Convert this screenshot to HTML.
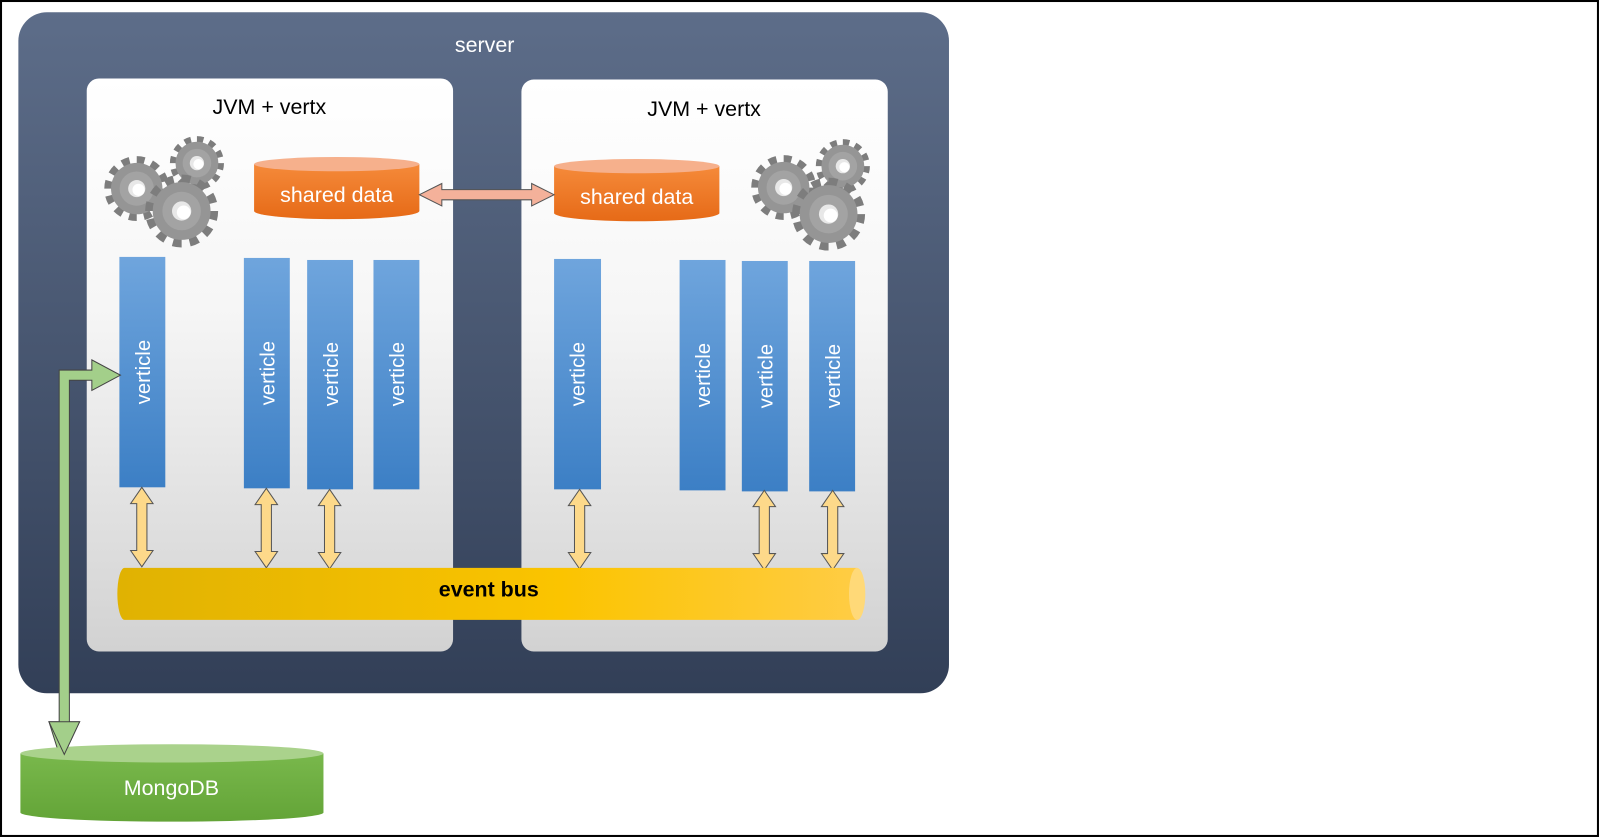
<!DOCTYPE html>
<html><head><meta charset="utf-8"><style>html,body{margin:0;padding:0;background:#fff}svg{display:block}</style></head>
<body>
<svg width="1600" height="838" viewBox="0 0 1568 822" preserveAspectRatio="none" xmlns="http://www.w3.org/2000/svg" font-family="'Liberation Sans', sans-serif">
<defs>
<linearGradient id="srv" x1="0" y1="0" x2="0" y2="1"><stop offset="0" stop-color="#5d6d89"/><stop offset="1" stop-color="#323f57"/></linearGradient>
<linearGradient id="jvm" x1="0" y1="0" x2="0" y2="1"><stop offset="0" stop-color="#ffffff"/><stop offset="0.4" stop-color="#f6f6f6"/><stop offset="1" stop-color="#d2d2d2"/></linearGradient>
<linearGradient id="vert" x1="0" y1="0" x2="0" y2="1"><stop offset="0" stop-color="#6fa5dd"/><stop offset="1" stop-color="#3c7fc5"/></linearGradient>
<linearGradient id="bus" x1="0" y1="0" x2="1" y2="0"><stop offset="0" stop-color="#e0b202"/><stop offset="0.6" stop-color="#fbc400"/><stop offset="1" stop-color="#ffcc44"/></linearGradient>
<linearGradient id="org" x1="0" y1="0" x2="0" y2="1"><stop offset="0" stop-color="#f58a3a"/><stop offset="1" stop-color="#e66a17"/></linearGradient>
<linearGradient id="grn" x1="0" y1="0" x2="0" y2="1"><stop offset="0" stop-color="#79b84c"/><stop offset="1" stop-color="#63a437"/></linearGradient>
<g id="gear"><circle r="22" fill="none" stroke="#7d7d7d" stroke-width="9" stroke-dasharray="6 5.5"/><circle r="21" fill="#959595"/><circle r="14" fill="#a3a3a3"/><circle r="7" fill="#e8e8e8"/><circle cx="1.5" cy="1" r="5" fill="#fff"/></g>
<g id="varr"><polygon points="0,0 11,16 5,16 5,62 11,62 0,78 -11,62 -5,62 -5,16 -11,16" fill="#fdd98a" stroke="#555" stroke-width="1"/></g>
</defs>
<rect x="1" y="1" width="1565" height="819" fill="#fff" stroke="#000" stroke-width="2"/>
<rect x="18" y="12" width="912" height="668" rx="28" fill="url(#srv)"/>
<text x="475" y="51" fill="#fff" font-size="21" text-anchor="middle">server</text>
<rect x="85" y="77" width="359" height="562" rx="12" fill="url(#jvm)"/>
<rect x="511" y="78" width="359" height="561" rx="12" fill="url(#jvm)"/>
<text x="264" y="112" font-size="21" text-anchor="middle">JVM + vertx</text>
<text x="690" y="114" font-size="21" text-anchor="middle">JVM + vertx</text>
<use href="#gear" transform="translate(134,185) scale(1.2)"/>
<use href="#gear" transform="translate(193,160) scale(1.0)"/>
<use href="#gear" transform="translate(178,207) scale(1.35)"/>
<use href="#gear" transform="translate(768,184) scale(1.2)"/>
<use href="#gear" transform="translate(826,163) scale(1.0)"/>
<use href="#gear" transform="translate(812,210) scale(1.35)"/>
<path d="M249,161 L249,207 A81,8 0 0 0 411,207 L411,161 Z" fill="url(#org)"/>
<ellipse cx="330" cy="161" rx="81" ry="7" fill="#f6b08c"/>
<text x="330" y="198" fill="#fff" font-size="21" text-anchor="middle">shared data</text>
<path d="M543,163 L543,209 A81,8 0 0 0 705,209 L705,163 Z" fill="url(#org)"/>
<ellipse cx="624" cy="163" rx="81" ry="7" fill="#f6b08c"/>
<text x="624" y="200" fill="#fff" font-size="21" text-anchor="middle">shared data</text>
<polygon points="411,191 433,180 433,186 521,186 521,180 543,191 521,202 521,196 433,196 433,202" fill="#f4b19a" stroke="#555" stroke-width="1"/>
<g fill="url(#vert)">
<rect x="117" y="252" width="45" height="226"/><rect x="239" y="253" width="45" height="226"/><rect x="301" y="255" width="45" height="225"/><rect x="366" y="255" width="45" height="225"/>
<rect x="543" y="254" width="46" height="226"/><rect x="666" y="255" width="45" height="226"/><rect x="727" y="256" width="45" height="226"/><rect x="793" y="256" width="45" height="226"/>
</g>
<g fill="#fff" font-size="20" text-anchor="middle">
<text transform="translate(147,365) rotate(-90)">verticle</text>
<text transform="translate(269,366) rotate(-90)">verticle</text>
<text transform="translate(331,367) rotate(-90)">verticle</text>
<text transform="translate(396,367) rotate(-90)">verticle</text>
<text transform="translate(573,367) rotate(-90)">verticle</text>
<text transform="translate(696,368) rotate(-90)">verticle</text>
<text transform="translate(757,369) rotate(-90)">verticle</text>
<text transform="translate(823,369) rotate(-90)">verticle</text>
</g>
<use href="#varr" transform="translate(139,478)"/>
<use href="#varr" transform="translate(261,479)"/>
<use href="#varr" transform="translate(323,480)"/>
<use href="#varr" transform="translate(568,480)"/>
<use href="#varr" transform="translate(749,481)"/>
<use href="#varr" transform="translate(816,481)"/>
<path d="M122,557 L840,557 L840,608 L122,608 A7,25.5 0 0 1 122,557 Z" fill="url(#bus)"/>
<ellipse cx="840" cy="582.5" rx="8" ry="25.5" fill="#ffd978"/>
<text x="479" y="585" font-size="21" font-weight="bold" text-anchor="middle">event bus</text>
<polygon points="58,740 48,708 58,708 58,363 90,363 90,353 118,368 90,383 90,373 68,373 68,708 78,708 63,740" fill="#a3cf8a" stroke="#444" stroke-width="1"/>
<path d="M20,739 L20,797 A148.5,9 0 0 0 317,797 L317,739 Z" fill="url(#grn)"/>
<ellipse cx="168.5" cy="739" rx="148.5" ry="9" fill="#aad28c"/>
<polygon points="48,708 78,708 63,740" fill="#a3cf8a" stroke="#444" stroke-width="1"/>
<text x="168" y="780" fill="#fff" font-size="21" text-anchor="middle">MongoDB</text>
</svg>
</body></html>
